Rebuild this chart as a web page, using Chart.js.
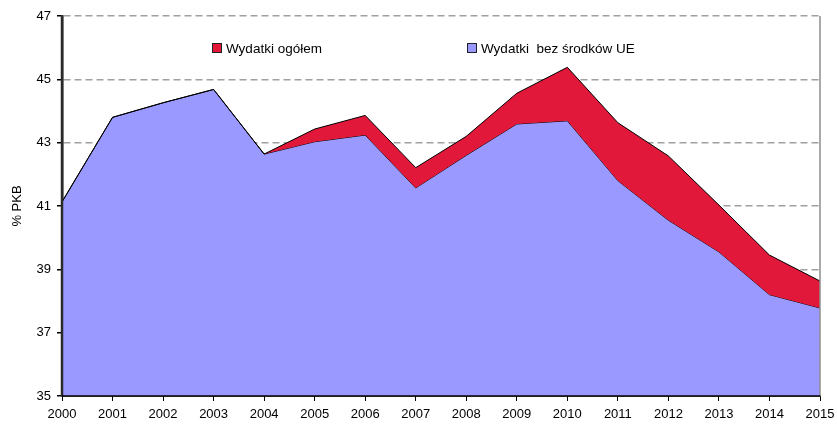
<!DOCTYPE html>
<html>
<head>
<meta charset="utf-8">
<script src="https://cdn.jsdelivr.net/npm/chart.js@4"></script>
<style>
html,body{margin:0;padding:0;background:#fff;}
#wrap{position:relative;width:837px;height:426px;}
</style>
</head>
<body>
<div id="wrap"><canvas id="c" width="837" height="426"></canvas></div>
<script>
const years = ['2000','2001','2002','2003','2004','2005','2006','2007','2008','2009','2010','2011','2012','2013','2014','2015'];
const totalSpending = [41.13,43.8,44.26,44.68,42.64,43.43,43.86,42.21,43.2,44.56,45.38,43.63,42.58,41.03,39.45,38.63];
const spendingExclEU = [41.13,43.8,44.26,44.68,42.64,43.03,43.24,41.57,42.6,43.59,43.69,41.8,40.55,39.55,38.2,37.78];
const seriesNames = ['Wydatki ogółem','Wydatki  bez środków UE'];
const yTicks = [35,37,39,41,43,45,47];

const RED = '#E2183A';
const BLUE = '#9999FF';
const FONT = '"Liberation Sans", Arial, sans-serif';

const framePlugin = {
  id: 'frame',
  afterDatasetsDraw(chart) {
    const {ctx, chartArea: a} = chart;
    ctx.save();
    ctx.strokeStyle = '#8C8C8C';
    ctx.lineWidth = 1.5;
    ctx.beginPath();
    ctx.moveTo(a.right, a.top);
    ctx.lineTo(a.right, a.bottom);
    ctx.stroke();
    ctx.strokeStyle = '#2a2a2a';
    ctx.lineWidth = 2.5;
    ctx.beginPath();
    ctx.moveTo(a.left, a.top);
    ctx.lineTo(a.left, a.bottom);
    ctx.stroke();
    ctx.strokeStyle = '#000';
    ctx.lineWidth = 1.5;
    ctx.beginPath();
    ctx.moveTo(a.left, a.bottom);
    ctx.lineTo(a.right, a.bottom);
    ctx.stroke();
    ctx.restore();
  },
  afterDraw(chart) {
    const {ctx, chartArea: a} = chart;
    ctx.save();
    ctx.font = '13.5px ' + FONT;
    ctx.textBaseline = 'middle';
    const items = [
      {x: a.left + 150, color: RED, text: seriesNames[0]},
      {x: a.left + 405, color: BLUE, text: seriesNames[1]}
    ];
    const y = a.top + 32;
    items.forEach(it => {
      ctx.fillStyle = it.color;
      ctx.fillRect(it.x, y - 5, 10, 10);
      ctx.strokeStyle = '#222';
      ctx.lineWidth = 1;
      ctx.strokeRect(it.x + 0.5, y - 5 + 0.5, 9, 9);
      ctx.fillStyle = '#000';
      ctx.fillText(it.text, it.x + 14, y + 1);
    });
    ctx.restore();
  }
};

new Chart(document.getElementById('c'), {
  type: 'line',
  data: {
    labels: years,
    datasets: [
      {
        label: seriesNames[0],
        data: totalSpending,
        backgroundColor: RED,
        borderColor: '#000',
        borderWidth: 1,
        pointRadius: 0,
        fill: '+1',
        tension: 0
      },
      {
        label: seriesNames[1],
        data: spendingExclEU,
        backgroundColor: BLUE,
        borderColor: '#000',
        borderWidth: 1,
        pointRadius: 0,
        fill: 'origin',
        tension: 0
      }
    ]
  },
  options: {
    responsive: false,
    animation: false,
    layout: {padding: {left: 0, right: 17, top: 16, bottom: 0}},
    plugins: {legend: {display: false}, tooltip: {enabled: false}},
    scales: {
      x: {
        offset: false,
        afterFit(scale) { scale.height = 30; scale.paddingRight = 0; scale.paddingLeft = 0; },
        grid: {drawOnChartArea: false, drawTicks: true, tickLength: 5, tickColor: '#000'},
        border: {color: '#000', width: 1.5},
        ticks: {color: '#000', font: {family: FONT, size: 13}, maxRotation: 0, autoSkip: false, padding: 6}
      },
      y: {
        min: 35, max: 47,
        afterBuildTicks(scale) { scale.ticks = yTicks.map(v => ({value: v})); },
        afterFit(scale) { scale.width = 62; scale.paddingTop = 0; scale.paddingBottom = 0; },
        grid: {
          drawTicks: true, tickLength: 5, tickColor: '#000',
          color: ctx => (ctx.tick && ctx.tick.value === 35) ? 'rgba(0,0,0,0)' : '#A0A0A0',
          lineWidth: 1.5
        },
        border: {color: '#333', width: 2.5, dash: [7, 4]},
        ticks: {color: '#000', font: {family: FONT, size: 13}, padding: 6},
        title: {display: true, text: '% PKB', color: '#000', font: {family: FONT, size: 13}, padding: {top: 10, bottom: 0}}
      }
    }
  },
  plugins: [framePlugin]
});
</script>
</body>
</html>
